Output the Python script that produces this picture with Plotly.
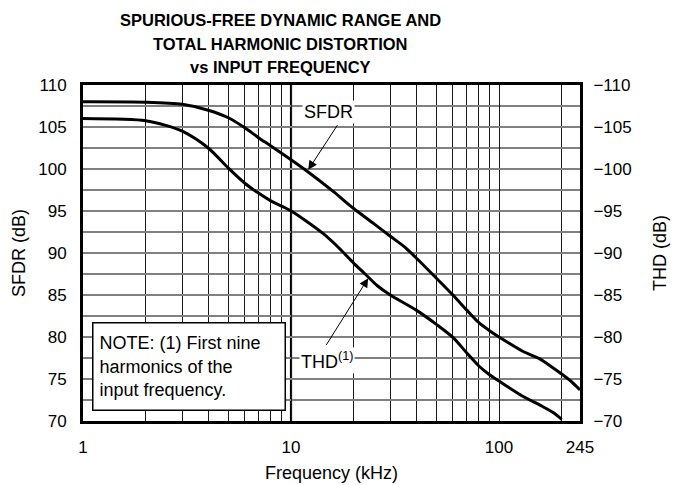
import numpy as np
import plotly.graph_objects as go

# ---- data ----
freq_sfdr = [1, 2, 3, 4, 5, 6, 7, 8, 10, 12, 16, 20, 25, 30, 35, 40, 50, 60, 70, 80, 90, 100,
             130, 157, 180, 200, 220, 245]
sfdr_db = [108.0, 107.95, 107.7, 107.0, 106.1, 104.9, 103.7, 102.75, 101.1, 99.7, 97.3, 95.3, 93.5, 92.0,
           90.75, 89.4, 87.0, 85.0, 83.2, 81.7, 80.75, 80.0, 78.3, 77.4, 76.4, 75.6, 74.8, 73.7]

freq_thd = [1, 2, 2.5, 3, 4, 5, 6, 7, 8, 10, 12, 14.3, 17, 20, 22.7, 26, 30, 40, 50, 60, 70, 80, 90, 100,
            130, 160, 182, 200]
thd_db = [106.0, 105.75, 105.2, 104.5, 102.5, 100.1, 98.3, 97.1, 96.2, 95.0, 93.7, 92.3, 90.6, 88.8, 87.5,
          86.1, 85.0, 83.2, 81.5, 79.95, 78.1, 76.55, 75.5, 74.75, 72.95, 71.8, 71.0, 70.2]

x_major = [1, 10, 100, 245]
x_major_text = ["1", "10", "100", "245"]
x_minor = [2, 3, 4, 5, 6, 7, 8, 9, 20, 30, 40, 50, 60, 70, 80, 90, 200]
y_ticks = [70, 75, 80, 85, 90, 95, 100, 105, 110]
y_left_text = [str(v) for v in y_ticks]
y_right_text = ["\u2212" + str(v) for v in y_ticks]
title_lines = ["SPURIOUS-FREE DYNAMIC RANGE AND", "TOTAL HARMONIC DISTORTION", "vs INPUT FREQUENCY"]

FONT = "Liberation Sans, Arial, Helvetica, sans-serif"

# page body has an 8px default margin; shift the figure content to compensate
OFF = 8
PL, PT, PW, PH = 83, 85, 497, 336  # plot area in page pixels

fig = go.Figure()
fig.add_trace(go.Scatter(x=freq_sfdr, y=sfdr_db, mode="lines",
                         line=dict(color="black", width=3, shape="spline", smoothing=0.8),
                         name="SFDR", yaxis="y"))
fig.add_trace(go.Scatter(x=freq_thd, y=thd_db, mode="lines",
                         line=dict(color="black", width=3, shape="spline", smoothing=0.8),
                         name="THD", yaxis="y2"))

lg = np.log10

fig.update_layout(
    width=681, height=485,
    margin=dict(l=PL - OFF, r=681 - (PL - OFF) - PW, t=PT - OFF, b=485 - (PT - OFF) - PH),
    paper_bgcolor="white", plot_bgcolor="white",
    showlegend=False,
    font=dict(family=FONT, size=17, color="black"),
    xaxis=dict(
        type="log", range=[0, lg(245)], automargin=False,
        tickmode="array", tickvals=x_major, ticktext=x_major_text,
        ticks="outside", ticklen=9, tickcolor="rgba(0,0,0,0)",
        showgrid=True, gridcolor="#1a1a1a", gridwidth=1,
        minor=dict(tickmode="array", tickvals=x_minor, showgrid=True, gridcolor="#1a1a1a", gridwidth=1, ticks=""),
        showline=True, linecolor="black", linewidth=3, mirror=True,
        zeroline=False,
        title=dict(text="Frequency (kHz)", font=dict(size=18), standoff=10),
        tickfont=dict(size=17),
    ),
    yaxis=dict(
        range=[70, 110], automargin=False,
        tickmode="array", tickvals=y_ticks, ticktext=y_left_text,
        ticks="outside", ticklen=10, tickcolor="rgba(0,0,0,0)",
        showgrid=True, gridcolor="#808080", gridwidth=1.5,
        minor=dict(dtick=2.5, tick0=70, showgrid=True, gridcolor="#808080", gridwidth=1.5, ticks=""),
        showline=True, linecolor="black", linewidth=3, mirror=True,
        zeroline=False,
        title=dict(text="SFDR (dB)", font=dict(size=18), standoff=8),
        tickfont=dict(size=17),
    ),
    yaxis2=dict(
        range=[70, 110], overlaying="y", side="right", automargin=False,
        tickmode="array", tickvals=y_ticks, ticktext=y_right_text,
        ticks="outside", ticklen=9, tickcolor="rgba(0,0,0,0)",
        showgrid=False, zeroline=False, showline=False,
        title=dict(text="THD (dB)", font=dict(size=18), standoff=22),
        tickfont=dict(size=17),
    ),
)

# title lines (three centred lines above the plot)
for line, ypix in zip(title_lines, [20, 43.5, 67]):
    fig.add_annotation(x=(280 - PL) / PW, y=(PT + PH - ypix) / PH, xref="paper", yref="paper",
                       text=f"<b>{line}</b>", showarrow=False, xanchor="center", yanchor="middle",
                       font=dict(size=16.5, family=FONT))

# vertical emphasis line at 10 kHz decade
fig.add_shape(type="line", xref="x", yref="paper", x0=10, x1=10, y0=0, y1=1,
              line=dict(color="black", width=2.2), layer="below")

# labels with white background
fig.add_annotation(x=lg(14.6) + 3 / 208, y=106.8, xref="x", yref="y", text="SFDR", showarrow=False,
                   bgcolor="white", font=dict(size=18), borderpad=1)
fig.add_annotation(x=lg(14.1) + 5 / 208, y=77.25, xref="x", yref="y", text="THD<sup>(1)</sup>", showarrow=False,
                   bgcolor="white", font=dict(size=18), borderpad=1)
# arrows
fig.add_annotation(x=lg(12.1), y=99.9, xref="x", yref="y", ax=lg(16.9), ay=105.4, axref="x", ayref="y",
                   text="", showarrow=True, arrowhead=2, arrowsize=1.8, arrowwidth=1, arrowcolor="black")
fig.add_annotation(x=lg(23.5), y=87.0, xref="x", yref="y", ax=lg(14.6), ay=78.85, axref="x", ayref="y",
                   text="", showarrow=True, arrowhead=2, arrowsize=1.8, arrowwidth=1, arrowcolor="black")

# note box
fig.add_annotation(x=(92 - PL) / PW, y=(PT + PH - 322.3) / PH, xref="paper", yref="paper",
                   xanchor="left", yanchor="top", align="left", valign="middle", showarrow=False,
                   text="NOTE: (1) First nine<br>harmonics of the<br>input frequency.",
                   font=dict(size=18), bgcolor="white", bordercolor="black", borderwidth=1.5,
                   borderpad=6, width=179, height=74)

fig.write_html("out.html")
